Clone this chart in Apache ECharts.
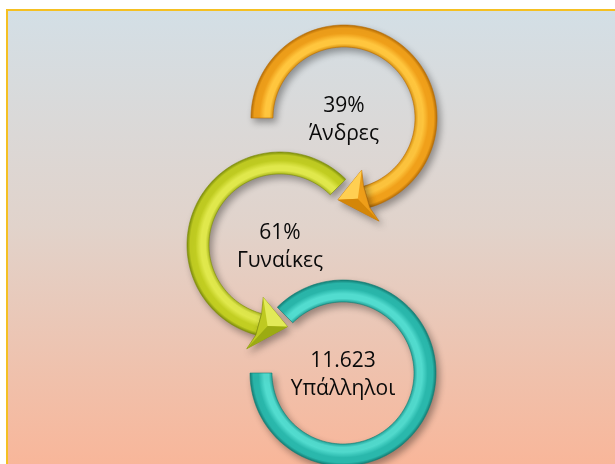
<!DOCTYPE html>
<html>
<head>
<meta charset="utf-8">
<script src="https://cdn.jsdelivr.net/npm/echarts@6/dist/echarts.min.js"></script>
<style>
html,body{margin:0;padding:0;background:#ffffff;}
#chart{width:615px;height:464px;}
</style>
</head>
<body>
<div id="chart"></div>
<script>
// ---- data ----
const values = ['39%', '61%', '11.623'];
const categories = ['Άνδρες', 'Γυναίκες', 'Υπάλληλοι'];

// ---- layout (separate from data) ----
const centersX = [344, 280, 343];
const centersY = [118, 245, 373];
// screen angles in degrees (y down); dir +1 = clockwise on screen
const arcStart = [180, -45, 225];
const arcEnd = [434, -255, 540];
const arcDir = [1, -1, 1];
const hasArrow = [true, true, false];
const palettes = [
  {dark:'#b86e06', base:'#f0a01a', light:'#ffc63e', edge:'#d8900e', facetL:'#ffcf52', facetD:'#d48608'},
  {dark:'#7f8f0c', base:'#c2ce22', light:'#e0e84c', edge:'#a8b61a', facetL:'#e2ea58', facetD:'#9cab12'},
  {dark:'#147f76', base:'#2ab8ac', light:'#52dccf', edge:'#1f9e94', facetL:'#5fe2d6', facetD:'#1a8f86'}
];
const R_OUT = 93, R_IN = 71, R_MID = 82, WING = 27, TIP_LEN = 29;

function pt(cx, cy, r, deg) {
  const a = deg * Math.PI / 180;
  return [cx + r * Math.cos(a), cy + r * Math.sin(a)];
}

function renderItem(params, api) {
  const i = api.value(2);
  const c = api.coord([api.value(0), api.value(1)]);
  const s = api.size([1, 1])[0];
  const cx = c[0], cy = c[1];
  const rO = R_OUT * s, rI = R_IN * s, rM = R_MID * s;
  const st = arcStart[i], en = arcEnd[i], dir = arcDir[i];
  const pal = palettes[i];
  const n = Math.ceil(Math.abs(en - st) / 2);
  const pts = [];
  for (let k = 0; k <= n; k++) pts.push(pt(cx, cy, rO, st + (en - st) * k / n));
  for (let k = n; k >= 0; k--) pts.push(pt(cx, cy, rI, st + (en - st) * k / n));
  const grad = new echarts.graphic.RadialGradient(cx, cy, rO, [
    {offset: 0, color: pal.edge},
    {offset: 0.76, color: pal.edge},
    {offset: 0.80, color: pal.light},
    {offset: 0.85, color: pal.light},
    {offset: 0.91, color: pal.base},
    {offset: 0.965, color: pal.base},
    {offset: 1, color: pal.dark}
  ], true);
  const shadow = {shadowBlur: 7, shadowOffsetX: 3, shadowOffsetY: 4, shadowColor: 'rgba(0,0,0,0.35)'};
  const children = [{
    type: 'polygon',
    shape: {points: pts},
    style: Object.assign({fill: grad, stroke: pal.dark, lineWidth: 0.6}, shadow)
  }];
  if (hasArrow[i]) {
    const deg = function (len) { return (len * s / rM) * 180 / Math.PI; };
    const tipAng = en + dir * deg(TIP_LEN);
    const barbAng = en - dir * deg(4);
    const w1 = pt(cx, cy, rM + WING * s, barbAng);
    const w2 = pt(cx, cy, rM - WING * s, barbAng);
    const t = pt(cx, cy, rM, tipAng);
    const mid = pt(cx, cy, rM, en + dir * deg(9));
    const b1 = pt(cx, cy, rO, en);
    const b2 = pt(cx, cy, rI, en);
    children.push({
      type: 'polygon',
      shape: {points: [b1, w1, t, w2, b2]},
      style: Object.assign({fill: pal.base, stroke: pal.dark, lineWidth: 0.6}, shadow)
    });
    children.push({
      type: 'polygon',
      shape: {points: [w2, t, mid]},
      style: {fill: pal.facetL}
    });
    children.push({
      type: 'polygon',
      shape: {points: [w1, t, mid]},
      style: {fill: pal.facetD}
    });
  }
  children.push({
    type: 'text',
    x: cx, y: cy + 2,
    style: {
      text: values[i] + '\n' + categories[i],
      align: 'center', verticalAlign: 'middle',
      fontFamily: '"Open Sans", "Noto Sans", sans-serif',
      fontSize: 21, lineHeight: 28, fill: '#0a0a0a'
    }
  });
  return {type: 'group', children: children};
}

const chart = echarts.init(document.getElementById('chart'), null, {renderer: 'canvas'});
chart.setOption({
  animation: false,
  backgroundColor: '#ffffff',
  graphic: [{
    type: 'rect', z: -10, silent: true,
    shape: {x: 7, y: 10, width: 640, height: 480},
    style: {
      fill: new echarts.graphic.LinearGradient(0, 0, 0, 1, [
        {offset: 0, color: '#d3dfe6'},
        {offset: 0.45, color: '#e1d3cb'},
        {offset: 1, color: '#fbb394'}
      ]),
      stroke: '#f5c022', lineWidth: 2
    }
  }],
  grid: {left: 0, right: 0, top: 0, bottom: 0},
  xAxis: {type: 'value', min: 0, max: 615, show: false},
  yAxis: {type: 'value', min: 0, max: 464, inverse: true, show: false},
  series: [{
    type: 'custom',
    renderItem: renderItem,
    clip: false,
    data: [2, 1, 0].map(i => [centersX[i], centersY[i], i])
  }]
});
</script>
</body>
</html>
